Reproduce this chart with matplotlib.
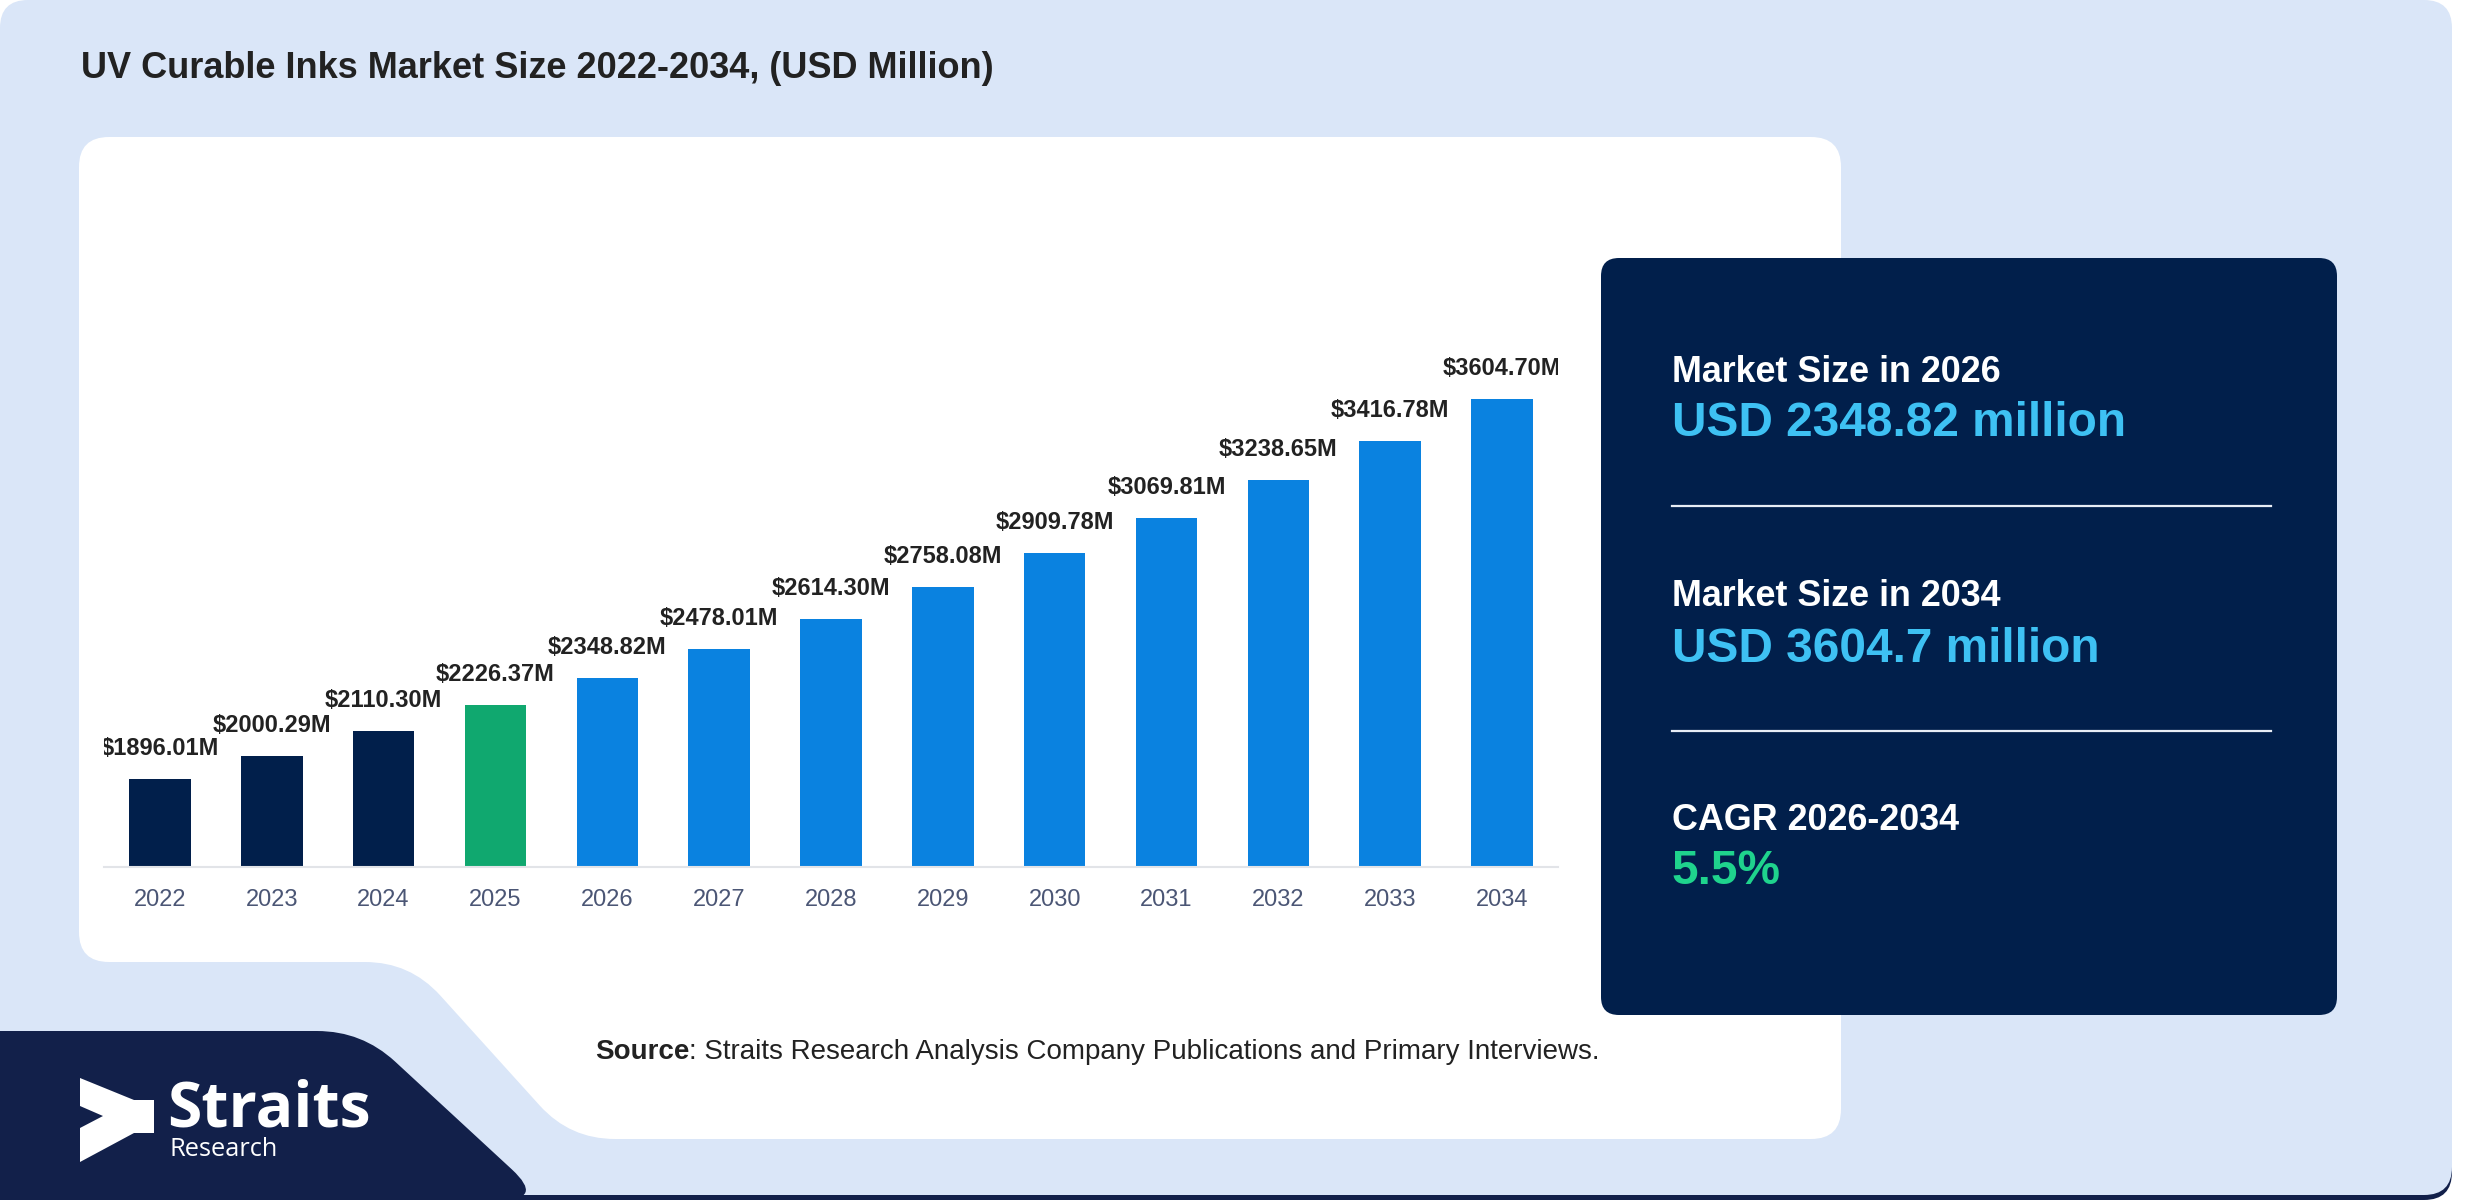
import matplotlib
matplotlib.use('Agg')
import matplotlib.pyplot as plt
from matplotlib.path import Path
from matplotlib.patches import PathPatch, Polygon

# ------------------------------------------------ data ------------------------------------------------
years = ['2022', '2023', '2024', '2025', '2026', '2027', '2028',
         '2029', '2030', '2031', '2032', '2033', '2034']
values = [1896.01, 2000.29, 2110.30, 2226.37, 2348.82, 2478.01, 2614.30,
          2758.08, 2909.78, 3069.81, 3238.65, 3416.78, 3604.70]
base_year = '2025'

title = 'UV Curable Inks Market Size 2022-2034, (USD Million)'
box_headers = ['Market Size in 2026', 'Market Size in 2034', 'CAGR 2026-2034']
box_values = ['USD 2348.82 million', 'USD 3604.7 million', '5.5%']
source_text = 'Straits Research Analysis Company Publications and Primary Interviews.'

# ------------------------------------------------ style ------------------------------------------------
NAVY = '#011f4b'
GREEN = '#10a86f'
BLUE = '#0a82e0'
BG = '#dae6f8'
NARROW = ['Liberation Sans Narrow', 'Liberation Sans', 'DejaVu Sans']
SANS = ['Liberation Sans', 'DejaVu Sans']

W, H = 2480, 1200


def rounded_path(pts, r):
    """Polygone aux coins arrondis (coordonnees pixels)."""
    n = len(pts)
    verts, codes = [], []
    for i in range(n):
        p0 = pts[i - 1]
        p1 = pts[i]
        p2 = pts[(i + 1) % n]
        rr = r[i] if isinstance(r, (list, tuple)) else r
        d1 = ((p1[0] - p0[0]) ** 2 + (p1[1] - p0[1]) ** 2) ** 0.5
        d2 = ((p2[0] - p1[0]) ** 2 + (p2[1] - p1[1]) ** 2) ** 0.5
        a = min(rr, d1 / 2) / d1 if d1 else 0
        b = min(rr, d2 / 2) / d2 if d2 else 0
        s = (p1[0] + (p0[0] - p1[0]) * a, p1[1] + (p0[1] - p1[1]) * a)
        e = (p1[0] + (p2[0] - p1[0]) * b, p1[1] + (p2[1] - p1[1]) * b)
        verts.append(s)
        codes.append(Path.MOVETO if i == 0 else Path.LINETO)
        verts += [p1, e]
        codes += [Path.CURVE3, Path.CURVE3]
    verts.append(verts[0])
    codes.append(Path.CLOSEPOLY)
    return Path(verts, codes)


fig = plt.figure(figsize=(W / 100, H / 100), dpi=100)
fig.patch.set_facecolor('white')

# fond decoratif en coordonnees pixels
bg = fig.add_axes([0, 0, 1, 1])
bg.set_xlim(0, W)
bg.set_ylim(H, 0)
bg.axis('off')

# ombre sombre en bas + carte bleu clair
bg.add_patch(PathPatch(rounded_path([(0, 20), (2452, 20), (2452, 1200), (0, 1200)], 28),
                       fc='#12204a', ec='none'))
bg.add_patch(PathPatch(rounded_path([(0, 0), (2452, 0), (2452, 1195), (0, 1195)], 28),
                       fc=BG, ec='none'))

# panneau blanc avec encoche en bas a gauche
bg.add_patch(PathPatch(rounded_path([(79, 137), (1841, 137), (1841, 1139), (570, 1139),
                                     (410, 962), (79, 962)], [30, 30, 30, 45, 45, 30]),
                       fc='white', ec='none'))

# forme du logo
bg.add_patch(PathPatch(rounded_path([(0, 1031), (362, 1031), (545, 1200), (0, 1200)],
                                    [0, 45, 45, 0]),
                       fc='#12204a', ec='none'))
icon = [(80, 1078), (134, 1100), (154, 1100), (154, 1133), (134, 1133), (80, 1162),
        (80, 1128), (103, 1116), (80, 1106)]
bg.add_patch(Polygon(icon, closed=True, fc='white', ec='none'))
bg.text(167, 1110, 'Straits', color='white', fontsize=45, fontweight='bold',
        family=['Open Sans', 'DejaVu Sans'], va='center', ha='left')
bg.text(170, 1150, 'Research', color='white', fontsize=18.3,
        family=['Open Sans', 'DejaVu Sans'], va='center', ha='left')

# titre
bg.text(81, 69, title, color='#222222', fontsize=26, fontweight='bold',
        family=NARROW, va='center', ha='left')

# source
t_src = bg.text(595, 1052, 'Source', color='#222222', fontsize=20, fontweight='bold',
                family=SANS, va='center', ha='left')
bg.annotate(': ' + source_text, xy=(1, 0.5), xycoords=t_src, color='#222222', fontsize=20,
            family=SANS, va='center', ha='left')

# encadre bleu marine
bg.add_patch(PathPatch(rounded_path([(1601, 258), (2337, 258), (2337, 1015), (1601, 1015)], 18),
                       fc=NAVY, ec='none'))
header_y = [372, 597, 821]
value_y = [424, 649, 872]
value_colors = ['#3ec1f3', '#3ec1f3', '#1fd38d']
for i in range(3):
    bg.text(1672, header_y[i], box_headers[i], color='white', fontsize=25.8,
            fontweight='bold', family=SANS, va='center', ha='left')
    bg.text(1672, value_y[i], box_values[i], color=value_colors[i], fontsize=34.4,
            fontweight='bold', family=SANS, va='center', ha='left')
for y in [506, 731]:
    bg.plot([1672, 2271], [y, y], color='#e8edf5', lw=1.6)

# ------------------------------------------------ graphique ------------------------------------------------
ax = fig.add_axes([104 / W, (H - 867) / H, (1558 - 104) / W, 717 / H])
ax.set_facecolor('none')
x = list(range(len(years)))
bar_colors = []
for y in years:
    if int(y) < int(base_year):
        bar_colors.append(NAVY)
    elif y == base_year:
        bar_colors.append(GREEN)
    else:
        bar_colors.append(BLUE)
ax.bar(x, values, width=0.55, color=bar_colors)
ax.set_xlim(-0.5, len(years) - 0.5)
ax.set_ylim(1500, 1500 + 717 / 0.2224)

for xi, v in zip(x, values):
    ax.annotate('${:.2f}M'.format(v), (xi, v), xytext=(0, 22), textcoords='offset points',
                ha='center', va='center', fontsize=17, fontweight='bold', color='#222222',
                family=NARROW, annotation_clip=False, clip_on=True)

ax.set_xticks(x)
ax.set_xticklabels(years, family=NARROW, fontsize=17, color='#4b5675')
ax.tick_params(axis='x', length=0, pad=16)
ax.set_yticks([])
for s in ['top', 'right', 'left']:
    ax.spines[s].set_visible(False)
ax.spines['bottom'].set_color('#e2e4e8')
ax.spines['bottom'].set_linewidth(1.5)

fig.savefig('out.png', dpi=100, facecolor='white')
